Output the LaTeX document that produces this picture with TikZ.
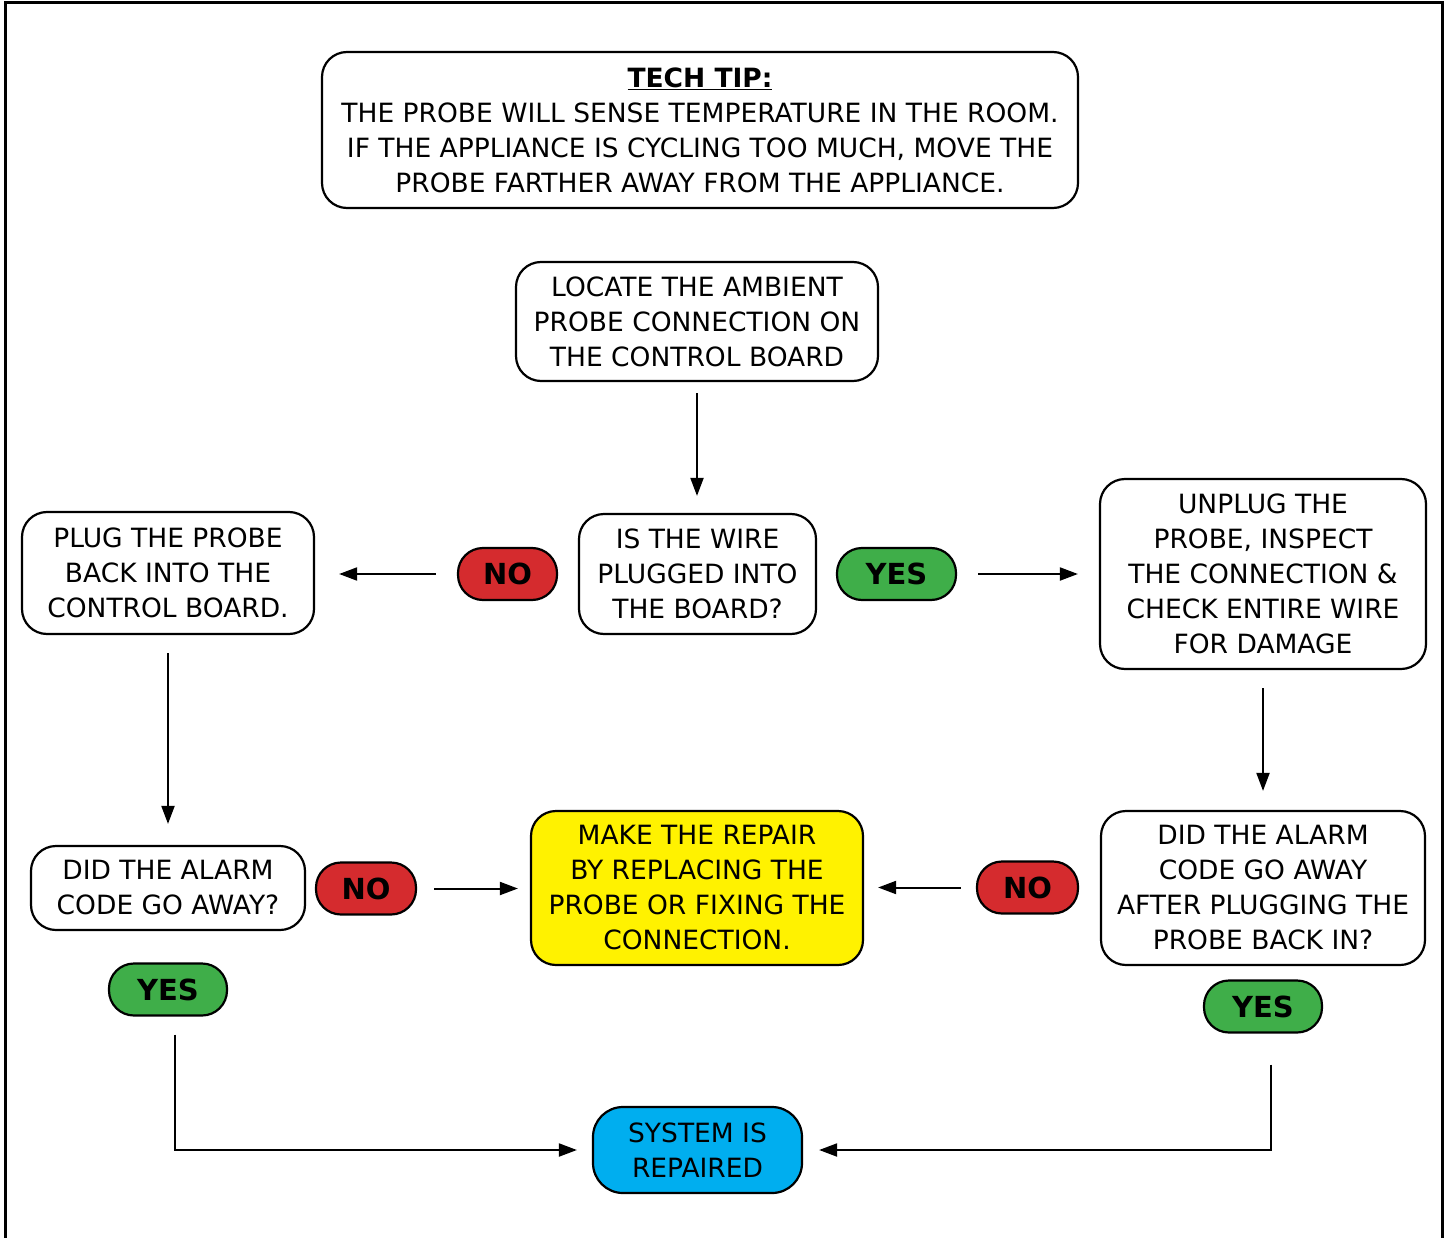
\documentclass[tikz,border=0pt]{standalone}
\usepackage{fontspec}
\setmainfont{DejaVu Sans}
\usetikzlibrary{arrows.meta}
\definecolor{pillred}{HTML}{D52B2E}
\definecolor{pillgreen}{HTML}{3FAE49}
\definecolor{repyellow}{HTML}{FFF200}
\definecolor{sysblue}{HTML}{00AEEF}
\newcommand\bodyfnt{\fontsize{26.5}{35}\selectfont}
\newcommand\pillfnt{\fontsize{29}{35}\selectfont\bfseries}
\tikzset{
  box/.style={draw, line width=2.2pt, rounded corners=25pt, align=center, font=\bodyfnt, inner sep=0pt},
  pill/.style={draw, line width=2.2pt, rounded corners=25pt, align=center, font=\pillfnt, inner sep=0pt, minimum height=52pt},
  arr/.style={line width=2pt, -{Triangle[length=18pt,width=13pt]}},
}
\begin{document}
\begin{tikzpicture}[x=1pt,y=-1pt]
\useasboundingbox (0,0) rectangle (1450,1238);
\draw[line width=3pt] (5,1240) -- (5,3) -- (1442,3) -- (1442,1240);

\node[box, minimum width=756pt, minimum height=156pt] (tip) at (700,130)
  {\underline{\textbf{TECH TIP:}}\\THE PROBE WILL SENSE TEMPERATURE IN THE ROOM.\\IF THE APPLIANCE IS CYCLING TOO MUCH, MOVE THE\\PROBE FARTHER AWAY FROM THE APPLIANCE.};
\node[box, minimum width=362pt, minimum height=119pt] (loc) at (697,321.5)
  {LOCATE THE AMBIENT\\PROBE CONNECTION ON\\THE CONTROL BOARD};
\node[box, minimum width=237pt, minimum height=120pt] (wire) at (697.5,574)
  {IS THE WIRE\\PLUGGED INTO\\THE BOARD?};
\node[box, minimum width=292pt, minimum height=122pt] (plug) at (168,573)
  {PLUG THE PROBE\\BACK INTO THE\\CONTROL BOARD.};
\node[box, minimum width=326pt, minimum height=190pt] (unplug) at (1263,574)
  {UNPLUG THE\\PROBE, INSPECT\\THE CONNECTION \&\\CHECK ENTIRE WIRE\\FOR DAMAGE};
\node[pill, fill=pillred, minimum width=99pt] (noA) at (507.5,574) {NO};
\node[pill, fill=pillgreen, minimum width=119pt] (yesA) at (896.5,574) {YES};

\node[box, minimum width=274pt, minimum height=84pt] (alarmL) at (168,888)
  {DID THE ALARM\\CODE GO AWAY?};
\node[pill, fill=pillred, minimum width=100pt] (noB) at (366,888.5) {NO};
\node[box, fill=repyellow, minimum width=332pt, minimum height=154pt] (repair) at (697,888)
  {MAKE THE REPAIR\\BY REPLACING THE\\PROBE OR FIXING THE\\CONNECTION.};
\node[pill, fill=pillred, minimum width=101pt] (noC) at (1027.5,887.5) {NO};
\node[box, minimum width=324pt, minimum height=154pt] (alarmR) at (1263,888)
  {DID THE ALARM\\CODE GO AWAY\\AFTER PLUGGING THE\\PROBE BACK IN?};
\node[pill, fill=pillgreen, minimum width=118pt] (yesB) at (168,989.5) {YES};
\node[pill, fill=pillgreen, minimum width=118pt] (yesC) at (1263,1006.5) {YES};
\node[box, fill=sysblue, minimum width=209pt, minimum height=86pt, rounded corners=30pt] (sys) at (697.5,1150)
  {SYSTEM IS\\REPAIRED};

\draw[arr, shorten <=11pt, shorten >=17pt] (loc.south) -- (loc.south |- wire.north);
\draw[arr, shorten <=21pt, shorten >=24pt] (noA.west) -- (plug.east |- noA.west);
\draw[arr, shorten <=21pt, shorten >=21pt] (yesA.east) -- (unplug.west);
\draw[arr, shorten <=18pt, shorten >=21pt] (plug) -- (alarmL);
\draw[arr, shorten <=18pt, shorten >=19pt] (unplug) -- (alarmR);
\draw[arr, shorten <=17pt, shorten >=12pt] (noB.east) -- (repair.west |- noB.east);
\draw[arr, shorten <=15pt, shorten >=14pt] (noC.west) -- (repair.east |- noC.west);
\draw[arr] ([shift={(7,18)}]yesB.south) |- ([xshift=-15pt]sys.west);
\draw[arr] ([shift={(8,31)}]yesC.south) |- ([xshift=16pt]sys.east);
\end{tikzpicture}
\end{document}
